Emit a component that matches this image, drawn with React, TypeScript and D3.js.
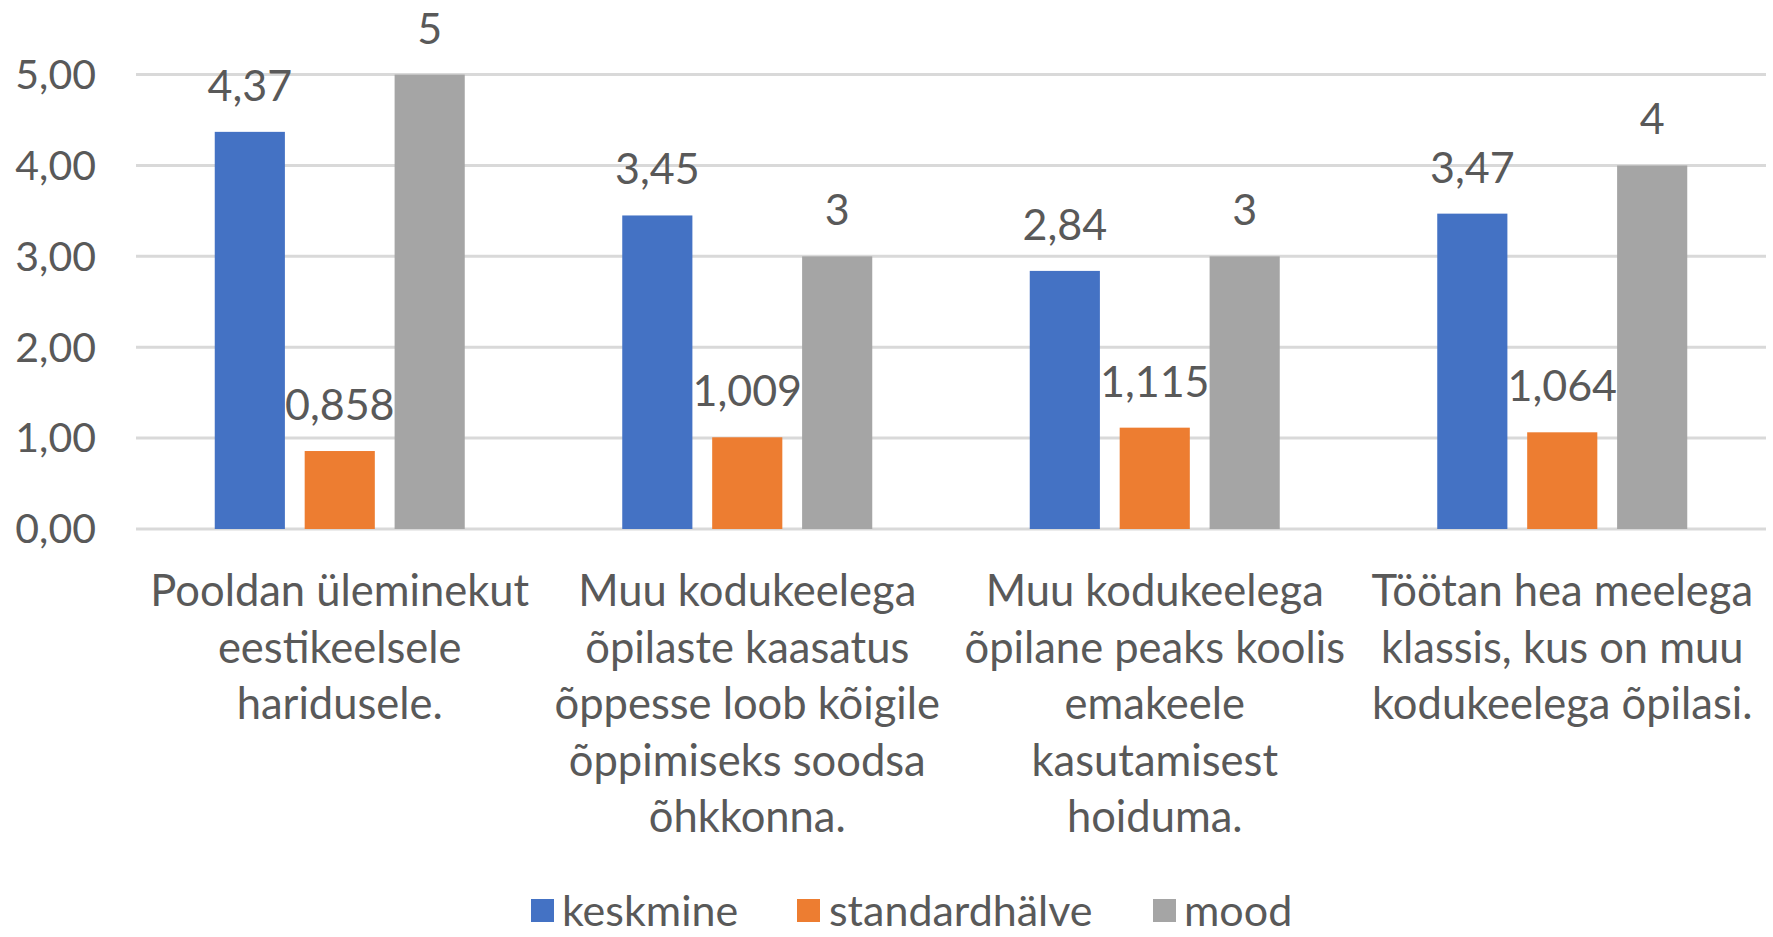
import React from 'react'
import * as d3 from 'd3'

const categories = [
  ['Pooldan üleminekut', 'eestikeelsele', 'haridusele.'],
  ['Muu kodukeelega', 'õpilaste kaasatus', 'õppesse loob kõigile', 'õppimiseks soodsa', 'õhkkonna.'],
  ['Muu kodukeelega', 'õpilane peaks koolis', 'emakeele', 'kasutamisest', 'hoiduma.'],
  ['Töötan hea meelega', 'klassis, kus on muu', 'kodukeelega õpilasi.'],
]
const seriesNames = ['keskmine', 'standardhälve', 'mood']
const keskmine = [4.37, 3.45, 2.84, 3.47]
const standardhalve = [0.858, 1.009, 1.115, 1.064]
const mood = [5, 3, 3, 4]
const yTicks = [0, 1, 2, 3, 4, 5]

const colors = ['#4472C4', '#ED7D31', '#A5A5A5']
const decimals = [2, 3, 0]
const font = 'Lato, "Open Sans", sans-serif'
const textColor = '#595959'

const fmt = (v: number, d: number) => v.toFixed(d).replace('.', ',')

const W = 1773
const H = 937
const plot = { left: 136, right: 1766, top: 74.6, bottom: 529 }

const App = () => {
  const values = [keskmine, standardhalve, mood]
  const idx = categories.map((_, i) => i)

  const x0 = d3.scaleBand<number>().domain(idx).range([plot.left, plot.right])
  const gw = x0.bandwidth()
  const x1 = d3.scaleBand<number>()
    .domain([0, 1, 2])
    .range([(gw - 250) / 2, (gw + 250) / 2])
    .paddingInner(0.22)
  const y = d3.scaleLinear().domain([0, 5]).range([plot.bottom, plot.top])

  const legendItems = [
    { x: 531, tx: 562 },
    { x: 797, tx: 829 },
    { x: 1153, tx: 1184 },
  ]
  const legendY = 911

  return (
    <svg width={W} height={H} style={{ position: 'absolute', left: 0, top: 0, background: '#fff' }}
      fontFamily={font}>
      {yTicks.map((t) => (
        <g key={t}>
          <line x1={plot.left} x2={plot.right} y1={y(t)} y2={y(t)} stroke="#d9d9d9" strokeWidth={3} />
          <text x={plot.left - 40} y={y(t)} dy="0.35em" textAnchor="end" fontSize={41} fill={textColor}>
            {fmt(t, 2)}
          </text>
        </g>
      ))}
      {idx.map((i) => (
        <g key={i} transform={`translate(${x0(i)},0)`}>
          {values.map((s, k) => {
            const bx = x1(k)!
            const bw = x1.bandwidth()
            return (
              <g key={k}>
                <rect x={bx} y={y(s[i])} width={bw} height={y(0) - y(s[i])} fill={colors[k]} />
                <text x={bx + bw / 2} y={y(s[i]) - 31} textAnchor="middle" fontSize={43} fill={textColor}>
                  {fmt(s[i], decimals[k])}
                </text>
              </g>
            )
          })}
          {categories[i].map((line, j) => (
            <text key={j} x={gw / 2} y={591 + j * 56.5} dy="0.35em" textAnchor="middle" fontSize={43.5} fill={textColor}>
              {line}
            </text>
          ))}
        </g>
      ))}
      {seriesNames.map((n, k) => (
        <g key={n}>
          <rect x={legendItems[k].x} y={legendY - 12} width={23} height={23} fill={colors[k]} />
          <text x={legendItems[k].tx} y={legendY} dy="0.35em" fontSize={43} fill={textColor}>{n}</text>
        </g>
      ))}
    </svg>
  )
}

export default App
